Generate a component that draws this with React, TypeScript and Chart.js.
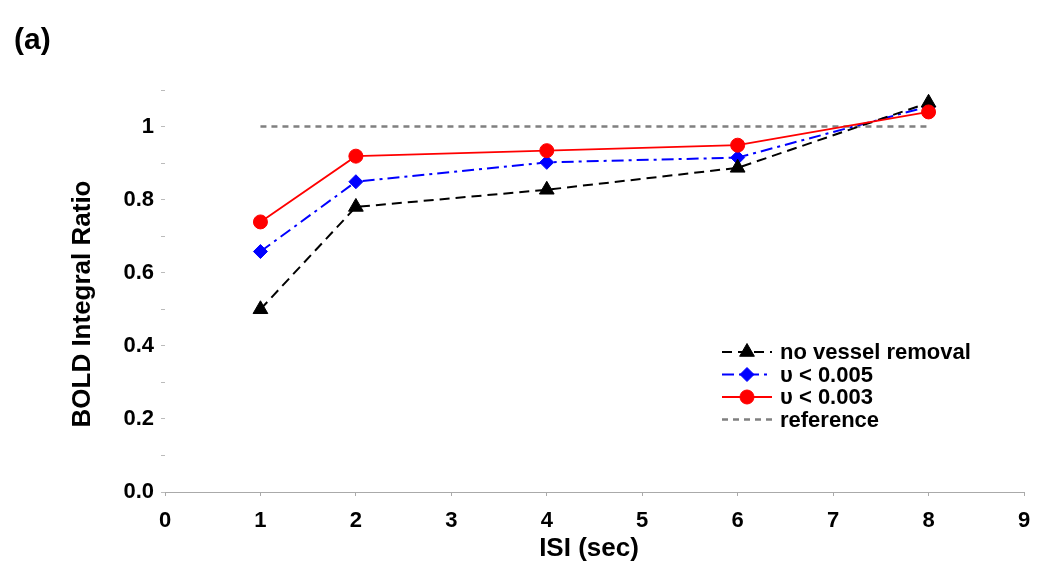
import React, { useEffect, useRef } from "react";
import { Chart, registerables } from "chart.js";
import { drawPoint } from "chart.js/helpers";

Chart.register(...registerables);

// ---- data ----
const isi = [1, 2, 4, 6, 8];
const noVesselRemoval = [0.5, 0.78, 0.827, 0.887, 1.065];
const v005 = [0.658, 0.849, 0.902, 0.915, 1.055];
const v003 = [0.739, 0.919, 0.934, 0.949, 1.04];
const referenceX = [1, 8];
const referenceY = [1, 1];
const seriesLabels = ["no vessel removal", "υ < 0.005", "υ < 0.003", "reference"];
const xTickLabels = ["0", "1", "2", "3", "4", "5", "6", "7", "8", "9"];
const yTickLabels = ["0.0", "", "0.2", "", "0.4", "", "0.6", "", "0.8", "", "1", ""];
const panelLabel = "(a)";
const xTitle = "ISI (sec)";
const yTitle = "BOLD Integral Ratio";

const FONT = "'Liberation Sans', Arial, Helvetica, sans-serif";

const overlayPlugin = {
  id: "overlay",
  afterDraw(chart: any) {
    const ctx = chart.ctx;
    ctx.save();
    ctx.fillStyle = "#000";
    // panel label
    ctx.font = `bold 30px ${FONT}`;
    ctx.textAlign = "left";
    ctx.textBaseline = "alphabetic";
    ctx.fillText(panelLabel, 14, 49);
    // axis titles
    ctx.font = `bold 26px ${FONT}`;
    ctx.textAlign = "center";
    ctx.textBaseline = "middle";
    ctx.fillText(xTitle, 589, 549);
    ctx.save();
    ctx.translate(83, 304);
    ctx.rotate(-Math.PI / 2);
    ctx.fillText(yTitle, 0, 0);
    ctx.restore();

    // legend
    const x0 = 722;
    const x1 = 772;
    const xm = 747;
    const rowY = [352, 374.5, 397, 419.5];
    chart.data.datasets.forEach((ds: any, i: number) => {
      const y = rowY[i];
      ctx.save();
      ctx.strokeStyle = ds.borderColor;
      ctx.lineWidth = ds.borderWidth;
      ctx.setLineDash(ds.borderDash || []);
      ctx.beginPath();
      ctx.moveTo(x0, y);
      ctx.lineTo(x1, y);
      ctx.stroke();
      ctx.setLineDash([]);
      if (ds.pointRadius > 0) {
        ctx.fillStyle = ds.pointBackgroundColor;
        ctx.strokeStyle = ds.pointBorderColor;
        ctx.lineWidth = ds.pointBorderWidth;
        drawPoint(ctx, { pointStyle: ds.pointStyle, rotation: 0, radius: ds.pointRadius, borderWidth: ds.pointBorderWidth }, xm, y);
      }
      ctx.restore();
      ctx.fillStyle = "#000";
      ctx.font = `bold 22px ${FONT}`;
      ctx.textAlign = "left";
      ctx.textBaseline = "middle";
      ctx.fillText(ds.label, 780, y + 1);
    });
    ctx.restore();
  },
};

export default function App() {
  const canvasRef = useRef<HTMLCanvasElement | null>(null);

  useEffect(() => {
    document.body.style.margin = "0";
    const canvas = canvasRef.current;
    if (!canvas) return;
    const toPts = (xs: number[], ys: number[]) => xs.map((x, i) => ({ x, y: ys[i] }));
    const chart = new Chart(canvas, {
      type: "line",
      data: {
        datasets: [
          {
            label: seriesLabels[0],
            data: toPts(isi, noVesselRemoval),
            borderColor: "#000000",
            borderWidth: 2,
            borderDash: [10, 6],
            pointStyle: "triangle",
            pointRadius: 8.5,
            pointBackgroundColor: "#000000",
            pointBorderColor: "#000000",
            pointBorderWidth: 1,
            fill: false,
            tension: 0,
            order: 1,
          },
          {
            label: seriesLabels[1],
            data: toPts(isi, v005),
            borderColor: "#0000ff",
            borderWidth: 2,
            borderDash: [12, 5, 3, 5],
            pointStyle: "rectRot",
            pointRadius: 7,
            pointBackgroundColor: "#0000ff",
            pointBorderColor: "#0000ff",
            pointBorderWidth: 1,
            fill: false,
            tension: 0,
            order: 2,
          },
          {
            label: seriesLabels[2],
            data: toPts(isi, v003),
            borderColor: "#ff0000",
            borderWidth: 1.8,
            borderDash: [],
            pointStyle: "circle",
            pointRadius: 7,
            pointBackgroundColor: "#ff0000",
            pointBorderColor: "#ff0000",
            pointBorderWidth: 1,
            fill: false,
            tension: 0,
            order: 0,
          },
          {
            label: seriesLabels[3],
            data: toPts(referenceX, referenceY),
            borderColor: "#808080",
            borderWidth: 2.5,
            borderDash: [6, 5],
            pointStyle: "circle",
            pointRadius: 0,
            pointBackgroundColor: "#808080",
            pointBorderColor: "#808080",
            pointBorderWidth: 0,
            fill: false,
            tension: 0,
            order: 3,
          },
        ],
      },
      options: {
        responsive: false,
        animation: false,
        layout: { padding: { top: 90, right: 26, bottom: 0, left: 0 } },
        plugins: {
          legend: { display: false },
          tooltip: { enabled: false },
          title: { display: false },
        },
        scales: {
          x: {
            type: "linear",
            min: 0,
            max: 9,
            afterFit: (s: any) => {
              s.height = 85;
            },
            ticks: {
              stepSize: 1,
              autoSkip: false,
              maxRotation: 0,
              padding: 12,
              color: "#000",
              font: { family: FONT, size: 22, weight: "bold" },
              callback: (_v: any, i: number) => xTickLabels[i],
            },
            grid: { drawOnChartArea: false, tickLength: 4, color: "#aaaaaa" },
            border: { display: true, color: "#aaaaaa", width: 1 },
          },
          y: {
            type: "linear",
            min: 0,
            max: 1.1,
            afterFit: (s: any) => {
              s.width = 165;
            },
            ticks: {
              stepSize: 0.1,
              autoSkip: false,
              padding: 7,
              color: "#000",
              font: { family: FONT, size: 22, weight: "bold" },
              callback: (_v: any, i: number) => yTickLabels[i],
            },
            grid: { drawOnChartArea: false, tickLength: 4, color: "#bbbbbb" },
            border: { display: false },
          },
        },
      },
      plugins: [overlayPlugin],
    } as any);
    return () => chart.destroy();
  }, []);

  return (
    <div style={{ width: 1050, height: 577, background: "#fff" }}>
      <canvas ref={canvasRef} width={1050} height={577} />
    </div>
  );
}
